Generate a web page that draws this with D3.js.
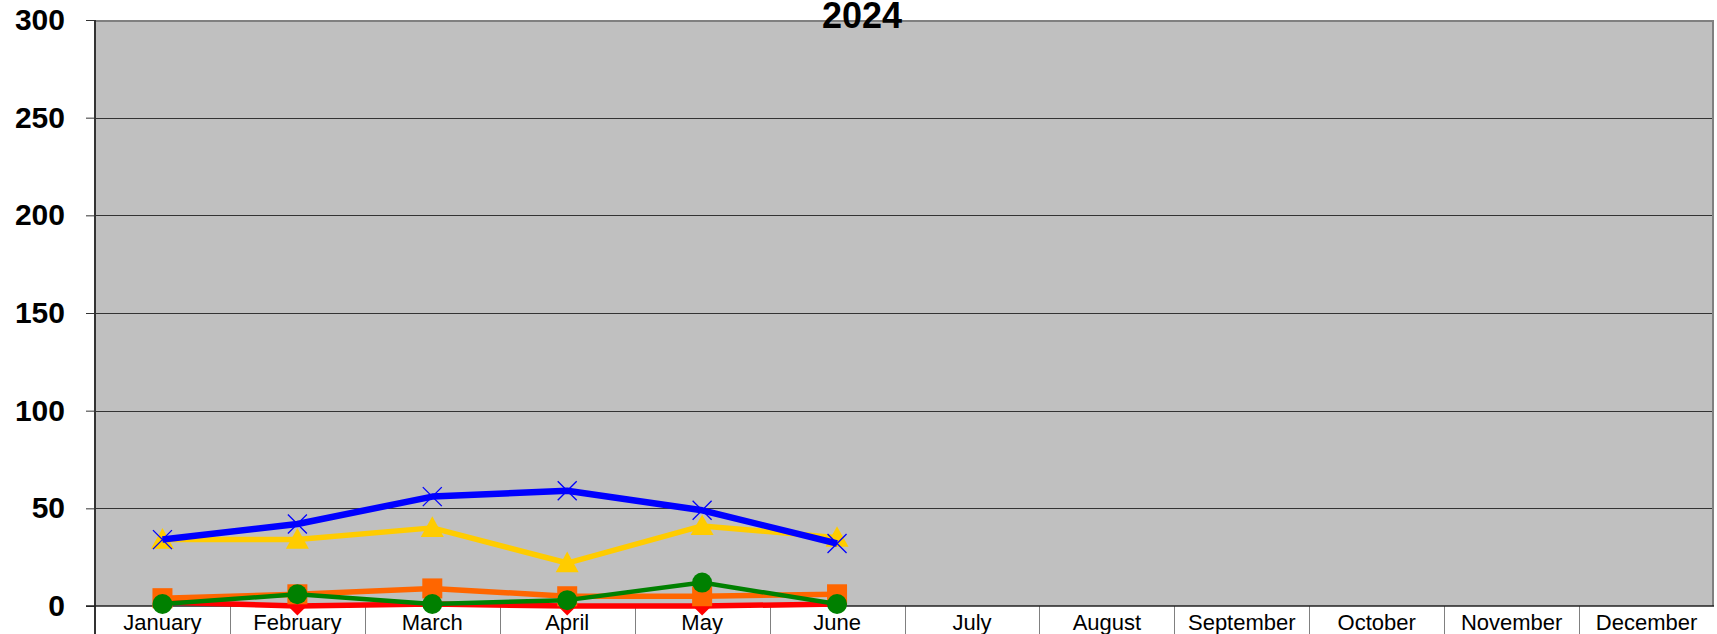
<!DOCTYPE html>
<html>
<head>
<meta charset="utf-8">
<script src="https://cdn.jsdelivr.net/npm/d3@7"></script>
<style>
  body { margin: 0; background: #fff; }
  text { font-family: "Liberation Sans", Arial, sans-serif; }
</style>
</head>
<body>
<div id="chart"></div>
<script>
// months on the x axis, only Jan-Jun have values so far
var months = ['January', 'February', 'March', 'April', 'May', 'June',
  'July', 'August', 'September', 'October', 'November', 'December'];
var yTicks = [0, 50, 100, 150, 200, 250, 300];
var title = '2024';

// series values
var redVals = [2, 0, 1, 0, 0, 1];
var orangeVals = [4, 6, 9, 5, 5, 6];
var yellowVals = [34, 34, 40, 22, 41, 35];
var greenVals = [1, 6, 1, 3, 12, 1];
var blueVals = [34, 42, 56, 59, 49, 32];

var width = 1717;
var height = 634;
var margin = { top: 20, right: 3, bottom: 28, left: 95 };

var svg = d3.select('#chart')
  .append('svg')
  .attr('width', width)
  .attr('height', height);

var x = d3.scaleBand()
  .domain(months)
  .range([margin.left, width - margin.right])
  .padding(0);

var y = d3.scaleLinear()
  .domain([0, 300])
  .range([height - margin.bottom, margin.top]);

// custom marker shapes (half size r)
function squareAt(r) {
  return 'M' + (-r) + ',' + (-r) + 'H' + r + 'V' + r + 'H' + (-r) + 'Z';
}
function diamondAt(r) {
  return 'M0,' + (-r) + 'L' + r + ',0L0,' + r + 'L' + (-r) + ',0Z';
}
function triangleAt(r) {
  return 'M0,' + (-r) + 'L' + r + ',' + (r * 0.8) + 'L' + (-r) + ',' + (r * 0.8) + 'Z';
}
function crossAt(r) {
  return 'M' + (-r) + ',' + (-r) + 'L' + r + ',' + r + 'M' + r + ',' + (-r) + 'L' + (-r) + ',' + r;
}
function circleAt(r) {
  return d3.symbol(d3.symbolCircle, Math.PI * r * r)();
}

// plot background
svg.append('rect')
  .attr('x', x.range()[0])
  .attr('y', y(300))
  .attr('width', x.range()[1] - x.range()[0])
  .attr('height', y(0) - y(300))
  .attr('fill', '#c0c0c0');

// gridlines
svg.append('g')
  .selectAll('line')
  .data(yTicks.filter(d => d > 0 && d < 300))
  .join('line')
  .attr('x1', x.range()[0])
  .attr('x2', x.range()[1])
  .attr('y1', d => Math.round(y(d)) + 0.5)
  .attr('y2', d => Math.round(y(d)) + 0.5)
  .attr('stroke', '#333')
  .attr('stroke-width', 1);

// top and right border
svg.append('path')
  .attr('d', 'M' + x.range()[0] + ',' + (y(300) + 1) + 'H' + (x.range()[1] - 1) + 'V' + y(0))
  .attr('fill', 'none')
  .attr('stroke', '#808080')
  .attr('stroke-width', 2);

// category separators below the plot
svg.append('g')
  .selectAll('line')
  .data(months.slice(1))
  .join('line')
  .attr('x1', d => Math.round(x(d)) + 0.5)
  .attr('x2', d => Math.round(x(d)) + 0.5)
  .attr('y1', y(0))
  .attr('y2', height)
  .attr('stroke', '#808080')
  .attr('stroke-width', 1);

// month labels
svg.append('g')
  .selectAll('text')
  .data(months)
  .join('text')
  .attr('x', d => x(d) + x.bandwidth() / 2)
  .attr('y', 630)
  .attr('text-anchor', 'middle')
  .attr('font-size', '22px')
  .attr('fill', '#000')
  .text(d => d);

// y axis
var yAxis = svg.append('g')
  .attr('transform', 'translate(' + margin.left + ',0)')
  .call(d3.axisLeft(y).tickValues(yTicks).tickSize(9).tickPadding(21));
yAxis.select('.domain').remove();
yAxis.selectAll('.tick line').attr('stroke', '#333');
yAxis.selectAll('.tick text')
  .attr('font-size', '30px')
  .attr('font-weight', 'bold')
  .attr('font-family', '"Liberation Sans", Arial, sans-serif')
  .attr('fill', '#000');

// left axis line and zero line
svg.append('line')
  .attr('x1', margin.left).attr('x2', margin.left)
  .attr('y1', y(300)).attr('y2', height)
  .attr('stroke', '#333').attr('stroke-width', 2);
svg.append('line')
  .attr('x1', margin.left - 9).attr('x2', x.range()[1])
  .attr('y1', y(0)).attr('y2', y(0))
  .attr('stroke', '#222').attr('stroke-width', 1.5);

// series, drawn in this order
var series = [
  { vals: redVals, color: '#ff0000', width: 5.5, marker: diamondAt, r: 9.5 },
  { vals: orangeVals, color: '#ff6600', width: 5.5, marker: squareAt, r: 10 },
  { vals: yellowVals, color: '#ffcc00', width: 5.5, marker: triangleAt, r: 11.5 },
  { vals: greenVals, color: '#008000', width: 4.5, marker: circleAt, r: 10 },
  { vals: blueVals, color: '#0000ff', width: 6.5, marker: crossAt, r: 9.5, stroke: true }
];

var line = d3.line()
  .x((d, i) => x(months[i]) + x.bandwidth() / 2)
  .y(d => y(d));

series.forEach(function (s) {
  var g = svg.append('g');
  g.append('path')
    .attr('d', line(s.vals))
    .attr('fill', 'none')
    .attr('stroke', s.color)
    .attr('stroke-width', s.width)
    .attr('stroke-linejoin', 'round');
  g.selectAll('path.m')
    .data(s.vals)
    .join('path')
    .attr('class', 'm')
    .attr('transform', (d, i) => 'translate(' + (x(months[i]) + x.bandwidth() / 2) + ',' + y(d) + ')')
    .attr('d', s.marker(s.r))
    .attr('fill', s.stroke ? 'none' : s.color)
    .attr('stroke', s.stroke ? s.color : 'none')
    .attr('stroke-width', s.stroke ? 1.3 : 0);
});

// title
svg.append('text')
  .attr('x', 862)
  .attr('y', 28)
  .attr('text-anchor', 'middle')
  .attr('font-size', '36px')
  .attr('font-weight', 'bold')
  .attr('fill', '#000')
  .text(title);
</script>
</body>
</html>
